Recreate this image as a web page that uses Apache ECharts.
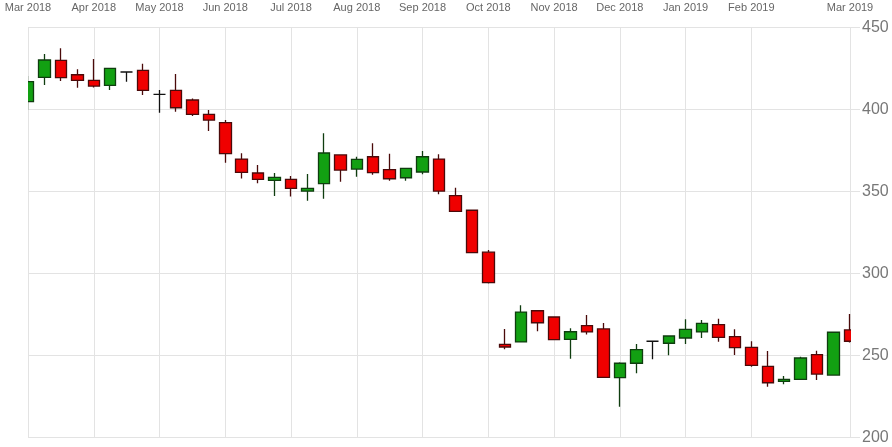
<!DOCTYPE html>
<html>
<head>
<meta charset="utf-8">
<script src="https://cdn.jsdelivr.net/npm/echarts@6/dist/echarts.min.js"></script>
<style>
html,body{margin:0;padding:0;background:#fff;}
#chart{width:892px;height:447px;}
</style>
</head>
<body>
<div id="chart"></div>
<script>
// Weekly candles, Mar 2018 – Mar 2019
const opens  = [404.9,419.7,430.1,421.3,417.9,414.8,423.0,424.0,409.3,411.8,405.9,397.2,392.1,369.9,361.4,356.9,357.5,350.4,354.9,372.4,363.8,371.3,363.4,358.5,362.0,369.9,347.6,338.7,313.1,256.9,258.4,277.4,273.6,260.0,268.3,266.3,236.6,245.4,258.8,257.6,260.8,264.5,268.9,261.6,255.1,243.5,234.3,235.6,250.6,238.2,265.7];
const closes = [417.1,430.3,419.5,417.9,414.4,425.2,423.0,411.8,409.3,401.2,397.2,393.7,373.2,361.8,357.5,358.7,352.0,352.0,373.6,363.2,369.7,361.6,357.9,364.2,371.3,350.4,338.0,312.8,294.5,255.3,276.6,270.1,259.8,264.6,264.5,236.8,245.4,253.7,258.8,262.0,266.1,269.7,261.2,254.9,244.1,233.5,235.6,248.6,238.8,264.3,258.8];
const lows   = [399.8,415.0,417.5,413.4,413.6,412.0,417.1,408.9,398.2,398.8,396.1,387.0,367.7,358.1,355.1,347.4,347.0,344.5,345.7,356.1,359.1,360.4,356.7,356.7,360.6,348.4,338.0,312.5,294.0,253.9,258.0,264.9,259.5,248.2,263.0,236.5,218.9,239.3,247.8,250.2,257.1,260.8,258.5,250.4,243.3,231.1,232.6,235.3,235.2,237.8,258.0];
const highs  = [420.5,433.9,437.4,424.6,430.9,425.5,423.5,428.0,412.0,421.7,406.9,399.8,393.7,373.4,366.3,361.4,359.6,360.8,385.6,372.6,371.3,379.5,373.2,364.6,374.8,372.8,352.4,339.0,314.4,266.3,280.7,277.8,274.0,266.7,274.8,270.0,246.0,257.1,259.0,262.2,272.2,271.8,272.6,266.1,258.8,252.9,237.6,249.4,253.0,264.5,275.4];

// Month tick labels and the week index they sit on
const tickLabels = ['Mar 2018','Apr 2018','May 2018','Jun 2018','Jul 2018','Aug 2018','Sep 2018','Oct 2018','Nov 2018','Dec 2018','Jan 2019','Feb 2019','Mar 2019'];
const tickIndex  = [0,4,8,12,16,20,24,28,32,36,40,44,50];

const yTicks = [200,250,300,350,400,450];

const weeks = opens.map((_, i) => String(i));
const candleData = opens.map((o, i) => [o, closes[i], lows[i], highs[i]]);

const chart = echarts.init(document.getElementById('chart'), null, {renderer: 'canvas'});
const isTick = (i) => tickIndex.indexOf(i) >= 0;

const GRID_L = 28, GRID_R = 42, GRID_T = 27.7, GRID_B = 9.3;
const W = 892, H = 447;

const yBase = {
  type: 'value',
  position: 'right',
  min: yTicks[0],
  max: yTicks[yTicks.length - 1],
  interval: 50,
  axisLine: {show: false}
};

chart.setOption({
  animation: false,
  backgroundColor: '#fff',
  grid: {left: GRID_L, right: GRID_R, top: GRID_T, bottom: GRID_B, containLabel: false},
  xAxis: {
    type: 'category',
    data: weeks,
    position: 'top',
    boundaryGap: false,
    axisLine: {show: false},
    axisTick: {show: false},
    axisLabel: {
      interval: (i) => isTick(i),
      formatter: (v) => tickLabels[tickIndex.indexOf(Number(v))] || '',
      color: '#666',
      fontSize: 11,
      fontFamily: 'Liberation Sans, Arial, sans-serif',
      margin: 14
    },
    splitLine: {show: true, interval: (i) => isTick(i), lineStyle: {color: '#e3e3e3', width: 1}}
  },
  yAxis: [
    Object.assign({}, yBase, {
      axisTick: {show: false},
      axisLabel: {show: false},
      splitLine: {show: true, lineStyle: {color: '#e3e3e3', width: 1}}
    }),
    Object.assign({}, yBase, {
      z: 10,
      axisTick: {show: true, length: 10, lineStyle: {color: '#e3e3e3'}},
      axisLabel: {color: '#777', fontSize: 16, fontFamily: 'Liberation Sans, Arial, sans-serif', margin: 12},
      splitLine: {show: false}
    })
  ],
  graphic: [
    {type: 'rect', z: 5, silent: true, shape: {x: 0, y: GRID_T - 2, width: GRID_L, height: H - GRID_T}, style: {fill: '#fff'}},
    {type: 'rect', z: 5, silent: true, shape: {x: W - GRID_R + 1, y: GRID_T - 2, width: 14, height: H - GRID_T}, style: {fill: '#fff'}}
  ],
  series: [{
    type: 'candlestick',
    data: candleData,
    yAxisIndex: 0,
    barWidth: 12,
    clip: true,
    itemStyle: {
      color: '#12a012',
      color0: '#f00000',
      borderColor: '#0f3d0f',
      borderColor0: '#4a0a0a',
      borderColorDoji: '#111',
      borderWidth: 1.3
    }
  }]
});
</script>
</body>
</html>
